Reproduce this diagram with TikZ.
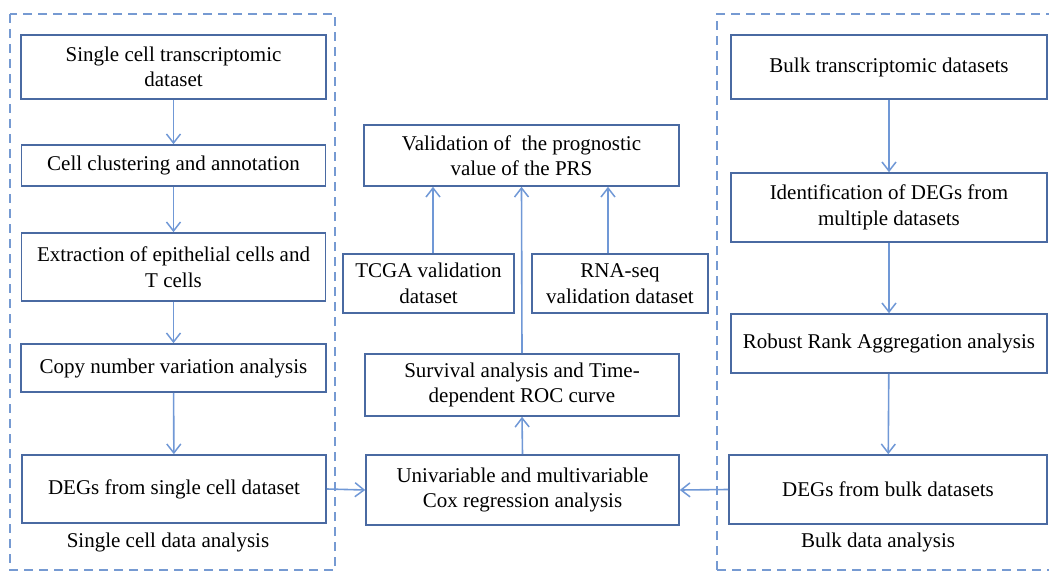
\documentclass[tikz,border=0pt]{standalone}
\usepackage{fontspec}
\setmainfont{Liberation Serif}
\usepackage{xcolor}
\usetikzlibrary{arrows.meta}
\definecolor{boxcol}{RGB}{74,106,162}
\definecolor{arrcol}{RGB}{112,152,214}
\definecolor{dashcol}{RGB}{118,154,210}
\tikzset{
  stepbox/.style={draw=boxcol,line width=1.6pt,fill=white,align=center,inner sep=0pt,
    font=\fontsize{21}{25.5}\selectfont},
  flow/.style={draw=arrcol,line width=1.6pt,-{Straight Barb[length=9pt,width=14pt,line width=1.5pt]}},
  group/.style={draw=dashcol,line width=1.5pt,dash pattern=on 9pt off 6pt},
  grouplabel/.style={font=\fontsize{21}{25.5}\selectfont,inner sep=0pt}
}
\begin{document}
\begin{tikzpicture}[x=1pt,y=-1pt]
\useasboundingbox (0,0) rectangle (1049,572);

%groups
\draw [group] (10,14) rectangle (335,570);
\draw [group] (717,570) -- (717,14) -- (1060,14);
\draw [group] (717,570) -- (1060,570);

%single cell column
\node[stepbox,minimum width=305pt,minimum height=64pt] (sc) at (173.5,67) {Single cell transcriptomic\\dataset};
\node[stepbox,minimum width=304pt,minimum height=41pt] (clust) at (173.5,165.5) {Cell clustering and annotation};
\node[stepbox,minimum width=304pt,minimum height=68pt] (extr) at (173.5,267) {Extraction of epithelial cells and\\T cells};
\node[stepbox,minimum width=305pt,minimum height=48pt] (cnv) at (173.5,368) {Copy number variation analysis};
\node[stepbox,minimum width=304pt,minimum height=68pt] (degsc) at (174,489) {DEGs from single cell dataset};
\node[grouplabel] (sclab) at (168,542) {Single cell data analysis};

%bulk column
\node[stepbox,minimum width=316pt,minimum height=64pt] (bulk) at (889,67) {Bulk transcriptomic datasets};
\node[stepbox,minimum width=316pt,minimum height=69pt] (ident) at (889,207.5) {Identification of DEGs from\\multiple datasets};
\node[stepbox,minimum width=316pt,minimum height=59pt] (rra) at (889,343.5) {Robust Rank Aggregation analysis};
\node[stepbox,minimum width=318pt,minimum height=69pt] (degbulk) at (888,489.5) {DEGs from bulk datasets};
\node[grouplabel] (bulklab) at (878,542) {Bulk data analysis};

%middle column
\node[stepbox,minimum width=315pt,minimum height=61pt] (valid) at (521.5,155.5) {Validation of~ the prognostic\\value of the PRS};
\node[stepbox,minimum width=171pt,minimum height=59pt] (tcga) at (428.5,283.5) {TCGA validation\\dataset};
\node[stepbox,minimum width=176pt,minimum height=59pt] (rnaseq) at (620,283.5) {RNA-seq\\validation dataset};
\node[stepbox,minimum width=314pt,minimum height=62pt] (surv) at (522,385) {Survival analysis and Time-\\dependent ROC curve};
\node[stepbox,minimum width=313pt,minimum height=70pt] (cox) at (522.5,490) {Univariable and multivariable\\Cox regression analysis};

%arrows left
\draw [flow] (sc) -- (clust);
\draw [flow] (clust) -- (extr);
\draw [flow] (extr) -- (cnv);
\draw [flow] (cnv) -- (degsc);

%arrows right
\draw [flow] (bulk) -- (ident);
\draw [flow] (ident) -- (rra);
\draw [flow] (rra) -- (degbulk);

%into cox
\draw [flow] (degsc.east) -- (cox.west);
\draw [flow] (degbulk.west) -- (cox.east);

%up to validation
\draw [flow] (cox.north) -- (surv.south);
\draw [flow] (surv.north) -- (valid.south);
\draw [flow] ([xshift=4.5pt]tcga.north) -- ([xshift=4.5pt]tcga.north |- valid.south);
\draw [flow] ([xshift=-12pt]rnaseq.north) -- ([xshift=-12pt]rnaseq.north |- valid.south);
\end{tikzpicture}
\end{document}
